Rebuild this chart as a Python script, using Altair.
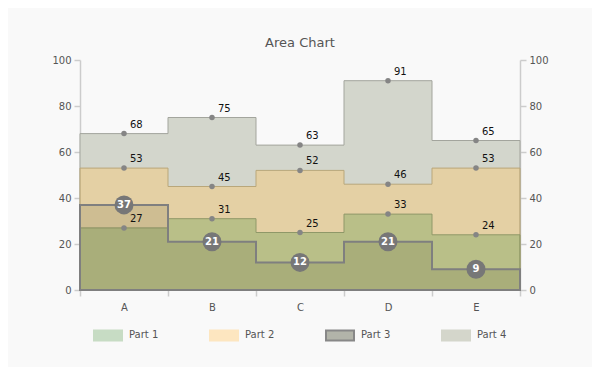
import altair as alt
import pandas as pd

# ---- data ----
title_text = "Area Chart"
categories = ["A", "B", "C", "D", "E"]
series_names = ["Part 1", "Part 2", "Part 3", "Part 4"]
part1 = [27, 31, 25, 33, 24]
part2 = [53, 45, 52, 46, 53]
part3 = [37, 21, 12, 21, 9]
part4 = [68, 75, 63, 91, 65]
y_ticks = [0, 20, 40, 60, 80, 100]

values = {"Part 1": part1, "Part 2": part2, "Part 3": part3, "Part 4": part4}

# ---- styles ----
FONT = "DejaVu Sans"
W, H = 440, 230
area_style = {
    "Part 4": dict(fill="#d3d6cc", fillOpacity=1.0, stroke="#a3a59d", strokeWidth=1),
    "Part 2": dict(fill="#ffc96a", fillOpacity=0.4, stroke="#b9a77a", strokeWidth=1),
    "Part 1": dict(fill="#56984a", fillOpacity=0.3, stroke="#8f9868", strokeWidth=1),
    "Part 3": dict(fill="#505030", fillOpacity=0.15, stroke="#7f7f7f", strokeWidth=2),
}
legend_fill = ["#c7dcc4", "#fde6c0", "#b2b4a9", "#d4d6cb"]
legend_stroke = ["#c7dcc4", "#fde6c0", "#888888", "#d4d6cb"]

# ---- tables ----
rows = []
for s, vals in values.items():
    for i, v in enumerate(vals):
        rows.append({"series": s, "pos": i, "mid": i + 0.5, "cat": categories[i], "value": v})
    # closing edge so the last step spans its whole band
    rows.append({"series": s, "pos": len(vals), "mid": None, "cat": None, "value": vals[-1]})
df = pd.DataFrame(rows)
pts = df[df["cat"].notna()].copy()

n = len(categories)
xscale = alt.Scale(domain=[0, n], nice=False, zero=False)
yscale = alt.Scale(domain=[0, 100], nice=False)

cat_list = "[" + ",".join("'" + c + "'" for c in categories) + "]"
x_axis = alt.Axis(
    values=list(range(n + 1)),
    labelExpr="datum.value < " + str(n) + " ? " + cat_list + "[datum.value] : ''",
    labelOffset=W / n / 2,
    title=None,
    grid=False,
    labelFlush=False,
    labelBound=False,
    labelOverlap=False,
    tickColor="#cccccc",
    tickWidth=1.5,
    tickSize=6,
    domainColor="#cccccc",
    labelFont=FONT,
    labelFontSize=10,
    labelColor="#555555",
    labelPadding=6,
)

def y_axis(orient):
    return alt.Axis(
        orient=orient,
        values=y_ticks,
        title=None,
        grid=False,
        domainColor="#cccccc",
        domainWidth=1.5,
        tickColor="#cccccc",
        tickWidth=1.5,
        tickSize=6,
        labelFont=FONT,
        labelFontSize=10,
        labelColor="#555555",
        labelPadding=3,
    )

legend = alt.Legend(
    orient="none",
    legendX=13,
    legendY=260,
    direction="horizontal",
    columns=4,
    columnPadding=47,
    title=None,
    padding=0,
    symbolType="M-1,-0.36H1V0.36H-1Z",
    symbolSize=784,
    symbolStrokeWidth=2,
    symbolOpacity=1,
    labelFont=FONT,
    labelFontSize=10,
    labelColor="#555555",
    labelOffset=6,
)
legend_df = pd.DataFrame({"series": series_names})
# hidden carrier for the legend (sits under the opaque Part 4 area)
legend_layer = alt.Chart(legend_df).mark_point(filled=True, size=4).encode(
    x=alt.value(3),
    y=alt.value(H - 3),
    fill=alt.Fill("series:N", scale=alt.Scale(domain=series_names, range=legend_fill), legend=legend),
    stroke=alt.Stroke("series:N", scale=alt.Scale(domain=series_names, range=legend_stroke), legend=legend),
)

layers = [legend_layer]
for i, s in enumerate(["Part 4", "Part 2", "Part 1", "Part 3"]):
    st = area_style[s]
    layers.append(
        alt.Chart(df)
        .transform_filter(alt.datum.series == s)
        .mark_area(interpolate="step-after", **st)
        .encode(
            x=alt.X("pos:Q", scale=xscale, axis=x_axis if i == 0 else None),
            y=alt.Y("value:Q", stack=None, scale=yscale, axis=y_axis("left") if i == 0 else None),
        )
    )

small = pts[pts["series"] != "Part 3"]
big = pts[pts["series"] == "Part 3"]

dots = alt.Chart(small).mark_circle(size=30, color="#858585", opacity=1).encode(
    x=alt.X("mid:Q", scale=xscale, axis=None),
    y=alt.Y("value:Q", scale=yscale, axis=y_axis("right")),
)
dot_labels = alt.Chart(small).mark_text(
    align="left", baseline="middle", dx=6, dy=-9, font=FONT, fontSize=10, color="#111111"
).encode(
    x=alt.X("mid:Q", scale=xscale, axis=None),
    y=alt.Y("value:Q", scale=yscale, axis=None),
    text=alt.Text("value:Q"),
)
badges = alt.Chart(big).mark_circle(size=360, color="#777777", opacity=1).encode(
    x=alt.X("mid:Q", scale=xscale, axis=None),
    y=alt.Y("value:Q", scale=yscale, axis=None),
)
badge_labels = alt.Chart(big).mark_text(
    align="center", baseline="middle", font=FONT, fontSize=10, fontWeight="bold", color="#ffffff"
).encode(
    x=alt.X("mid:Q", scale=xscale, axis=None),
    y=alt.Y("value:Q", scale=yscale, axis=None),
    text=alt.Text("value:Q"),
)

chart = (
    alt.layer(*layers, dots, dot_labels, badges, badge_labels)
    .resolve_axis(x="independent", y="independent")
    .properties(
        width=W,
        height=H,
        autosize=alt.AutoSizeParams(type="none"),
        padding={"left": 72, "top": 52, "right": 72, "bottom": 77},
        background="#f9f9f9",
        title=alt.TitleParams(
            title_text, font=FONT, fontSize=13, fontWeight="normal", color="#555555",
            anchor="middle", offset=5,
        ),
    )
    .configure_view(stroke=None)
)

chart.save("out.html", embed_options={"renderer": "svg", "actions": False})
